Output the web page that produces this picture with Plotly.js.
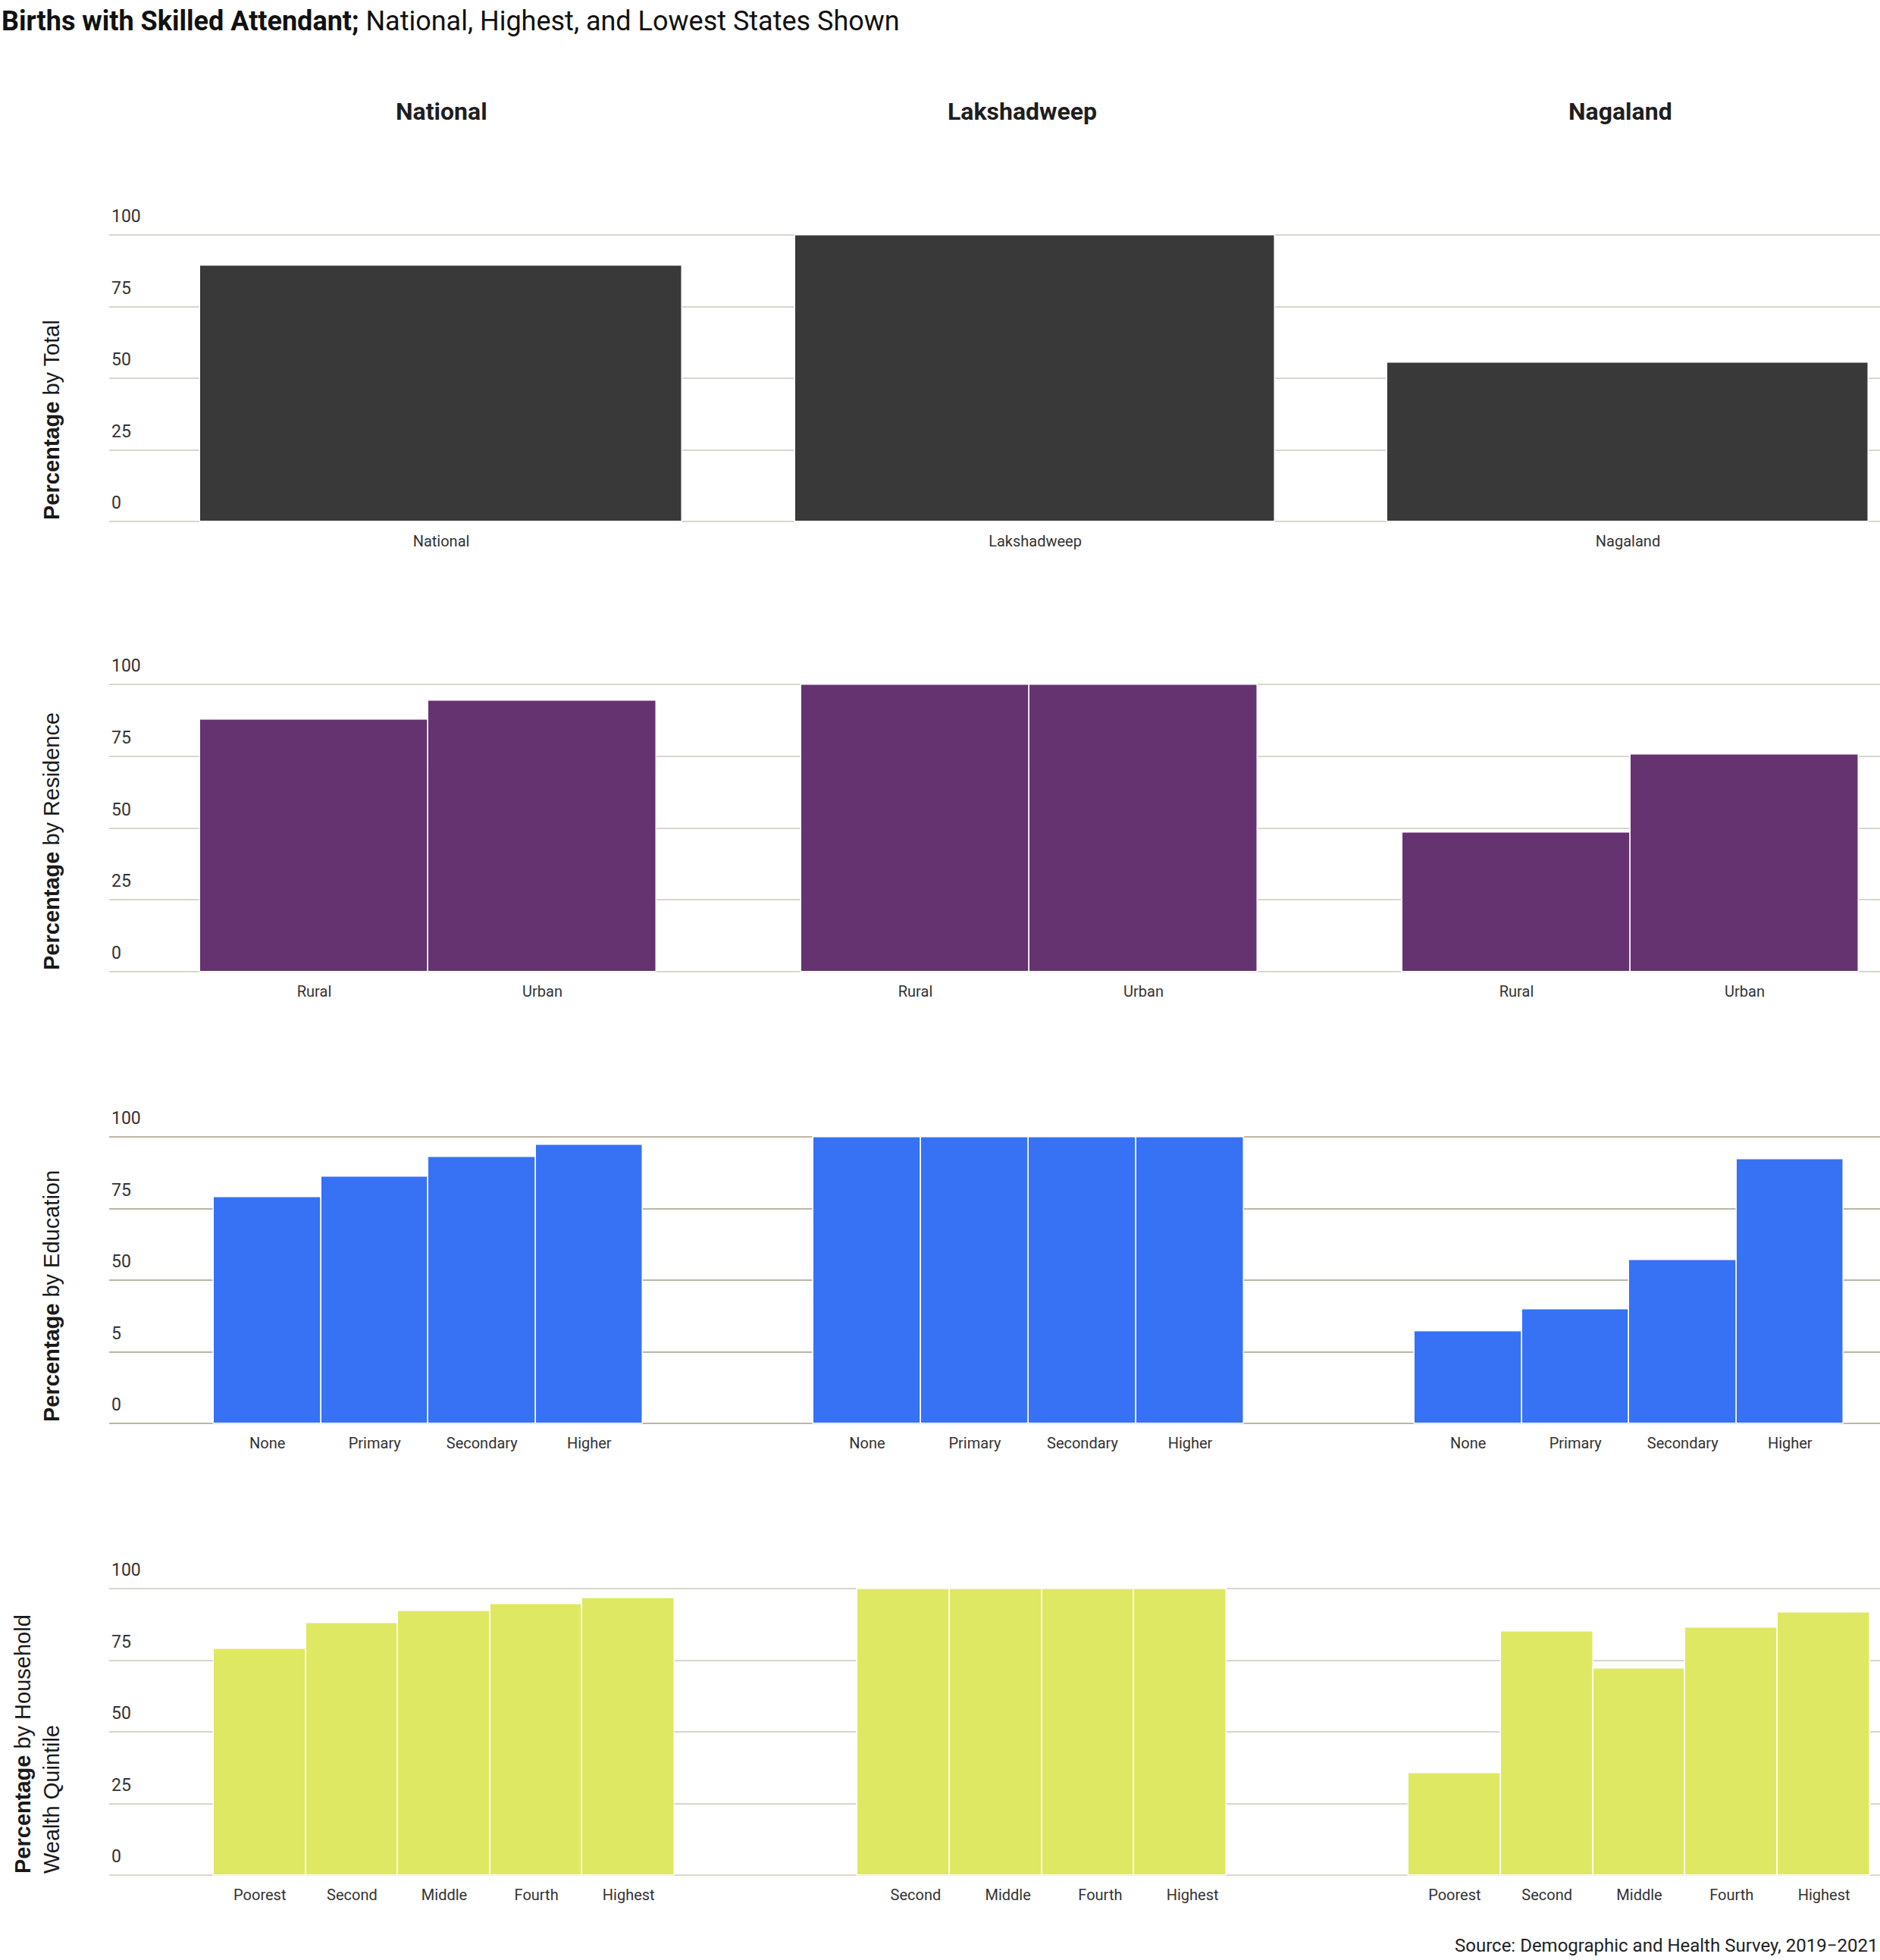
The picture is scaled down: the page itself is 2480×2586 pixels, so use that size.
<!DOCTYPE html>
<html>
<head>
<meta charset="utf-8">
<script src="https://cdn.plot.ly/plotly-3.0.1.min.js"></script>
<style>
  html, body { margin: 0; padding: 0; background: #ffffff; }
  #chart { width: 2480px; height: 2586px; }
</style>
</head>
<body>
<div id="chart"></div>
<script>
// ---------------- DATA ----------------
const columnNames = ['National', 'Lakshadweep', 'Nagaland'];

const totalCategories = ['National', 'Lakshadweep', 'Nagaland'];
const totalValues = [89.3, 100, 55.5];

const residenceCategories = ['Rural', 'Urban'];
const residenceNational = [87.8, 94.3];
const residenceLakshadweep = [100, 100];
const residenceNagaland = [48.5, 75.7];

const educationCategories = ['None', 'Primary', 'Secondary', 'Higher'];
const educationNational = [78.9, 86.2, 93.1, 97.2];
const educationLakshadweep = [100, 100, 100, 100];
const educationNagaland = [32.1, 39.9, 57.0, 92.1];

const wealthCategories = ['Poorest', 'Second', 'Middle', 'Fourth', 'Highest'];
const wealthCategoriesLakshadweep = ['Second', 'Middle', 'Fourth', 'Highest'];
const wealthNational = [79.0, 88.0, 92.2, 94.7, 96.7];
const wealthLakshadweep = [100, 100, 100, 100];
const wealthNagaland = [35.7, 85.2, 72.2, 86.5, 91.6];

const yTickVals = [0, 25, 50, 75, 100];
const yTickText = ['0', '25', '50', '75', '100'];
const yTickTextEducation = ['0', '5', '50', '75', '100'];

const rowTitles = [
  '<b>Percentage</b> by Total',
  '<b>Percentage</b> by Residence',
  '<b>Percentage</b> by Education',
  '<b>Percentage</b> by Household<br>Wealth Quintile'
];
const chartTitle = '<b>Births with Skilled Attendant;</b> National, Highest, and Lowest States Shown';
const sourceText = 'Source: Demographic and Health Survey, 2019\u22122021';

// ---------------- LAYOUT / STYLE ----------------
const W = 2480, H = 2586;
const rowColors = ['#393939', '#653370', '#3771f4', '#dfe862'];
const gridColors = ['#d9d6cd', '#d9d6cd', '#bdb6a4', '#d9d6cd'];

// rows: categories / values per column
const rows = [
  { cats: [[totalCategories[0]], [totalCategories[1]], [totalCategories[2]]],
    vals: [[totalValues[0]], [totalValues[1]], [totalValues[2]]], ticktext: yTickText },
  { cats: [residenceCategories, residenceCategories, residenceCategories],
    vals: [residenceNational, residenceLakshadweep, residenceNagaland], ticktext: yTickText },
  { cats: [educationCategories, educationCategories, educationCategories],
    vals: [educationNational, educationLakshadweep, educationNagaland], ticktext: yTickTextEducation },
  { cats: [wealthCategories, wealthCategoriesLakshadweep, wealthCategories],
    vals: [wealthNational, wealthLakshadweep, wealthNagaland], ticktext: yTickText }
];

// plot geometry (pixels on page)
const colDomainPx = [[144, 975], [975, 1750], [1750, 2480]];
const bandPx = [
  [[264, 900], [1049, 1682], [1830, 2465]],
  [[264, 866], [1057, 1659], [1850, 2452]],
  [[282, 848], [1073, 1641], [1866, 2432]],
  [[282, 890], [1131, 1618], [1858, 2467]]
];
const xLabelShift = [[0, 0, 0], [0, 0, 0], [0, 0, 0], [0, 16, 0]];
const rowPx = [[310, 688], [903, 1282], [1500, 1878], [2096, 2474]]; // [y of 100, y of 0]
const yMin = -1, yMax = 102;

const px2x = p => p / W;
const px2y = p => 1 - p / H;

const data = [];
const layout = {
  width: W, height: H,
  margin: { l: 0, r: 0, t: 0, b: 0 },
  paper_bgcolor: '#ffffff',
  plot_bgcolor: 'rgba(0,0,0,0)',
  showlegend: false,
  bargap: 0,
  font: { family: 'Roboto, sans-serif', color: '#333333' },
  annotations: []
};

rows.forEach((row, r) => {
  const [y100, y0] = rowPx[r];
  const k = (y0 - y100) / 100;
  const topPx = y100 - (yMax - 100) * k;
  const botPx = y0 - yMin * k;
  for (let c = 0; c < 3; c++) {
    const idx = r * 3 + c + 1;
    const xa = 'x' + idx, ya = 'y' + idx;
    const cats = row.cats[c];
    const n = cats.length;
    const [d0, d1] = colDomainPx[c];
    const [p0, p1] = bandPx[r][c];
    const s = (p1 - p0) / n;
    const r0 = -0.5 - (p0 - d0) / s;
    const r1 = n - 0.5 + (d1 - p1) / s;

    data.push({
      type: 'bar',
      x: cats,
      y: row.vals[c],
      xaxis: xa, yaxis: ya,
      marker: { color: rowColors[r], line: { color: '#ffffff', width: 1.5 } },
      hoverinfo: 'x+y'
    });

    layout['xaxis' + idx] = {
      domain: [px2x(d0), px2x(d1)],
      anchor: ya,
      type: 'category',
      categoryorder: 'array',
      categoryarray: cats,
      range: [r0, r1],
      showgrid: false, zeroline: false, showline: false,
      ticks: '',
      ticklabelstandoff: 8,
      ticklabelshift: xLabelShift[r][c],
      tickfont: { family: 'Roboto', size: 20, color: '#333333' },
      fixedrange: true
    };
    layout['yaxis' + idx] = {
      domain: [px2y(botPx), px2y(topPx)],
      anchor: xa,
      range: [yMin, yMax],
      tickmode: 'array',
      tickvals: yTickVals,
      ticktext: row.ticktext,
      showgrid: true,
      gridcolor: gridColors[r],
      gridwidth: 2,
      zeroline: false,
      showline: false,
      ticks: '',
      showticklabels: c === 0,
      ticklabelposition: 'inside',
      ticklabelshift: -25,
      ticklabelstandoff: 0,
      ticklabeloverflow: 'allow',
      tickfont: { family: 'Roboto', size: 23, color: '#333333' },
      fixedrange: true
    };
  }
  // row title
  layout.annotations.push({
    xref: 'paper', yref: 'paper',
    x: px2x(86), y: px2y(y0),
    xanchor: 'right', yanchor: 'bottom',
    textangle: -90,
    align: 'left',
    showarrow: false,
    text: rowTitles[r],
    font: { family: 'Liberation Sans, Arial, sans-serif', size: 29, color: '#1a1a1a' }
  });
});

// column headers
const headerCenters = [582, 1348, 2137];
columnNames.forEach((name, c) => {
  layout.annotations.push({
    xref: 'paper', yref: 'paper',
    x: px2x(headerCenters[c]), y: px2y(147),
    xanchor: 'center', yanchor: 'middle',
    showarrow: false,
    text: '<b>' + name + '</b>',
    font: { family: 'Roboto', size: 32, color: '#1e1e1e' }
  });
});

// chart title
layout.annotations.push({
  xref: 'paper', yref: 'paper',
  x: 0, y: px2y(28),
  xanchor: 'left', yanchor: 'middle',
  showarrow: false,
  text: chartTitle,
  font: { family: 'Roboto', size: 36, color: '#111111' }
});

// source
layout.annotations.push({
  xref: 'paper', yref: 'paper',
  x: px2x(2479), y: px2y(2567),
  xanchor: 'right', yanchor: 'middle',
  showarrow: false,
  text: sourceText,
  font: { family: 'Roboto', size: 24, color: '#222222' }
});

Plotly.newPlot('chart', data, layout, { displayModeBar: false, responsive: false });
</script>
</body>
</html>
